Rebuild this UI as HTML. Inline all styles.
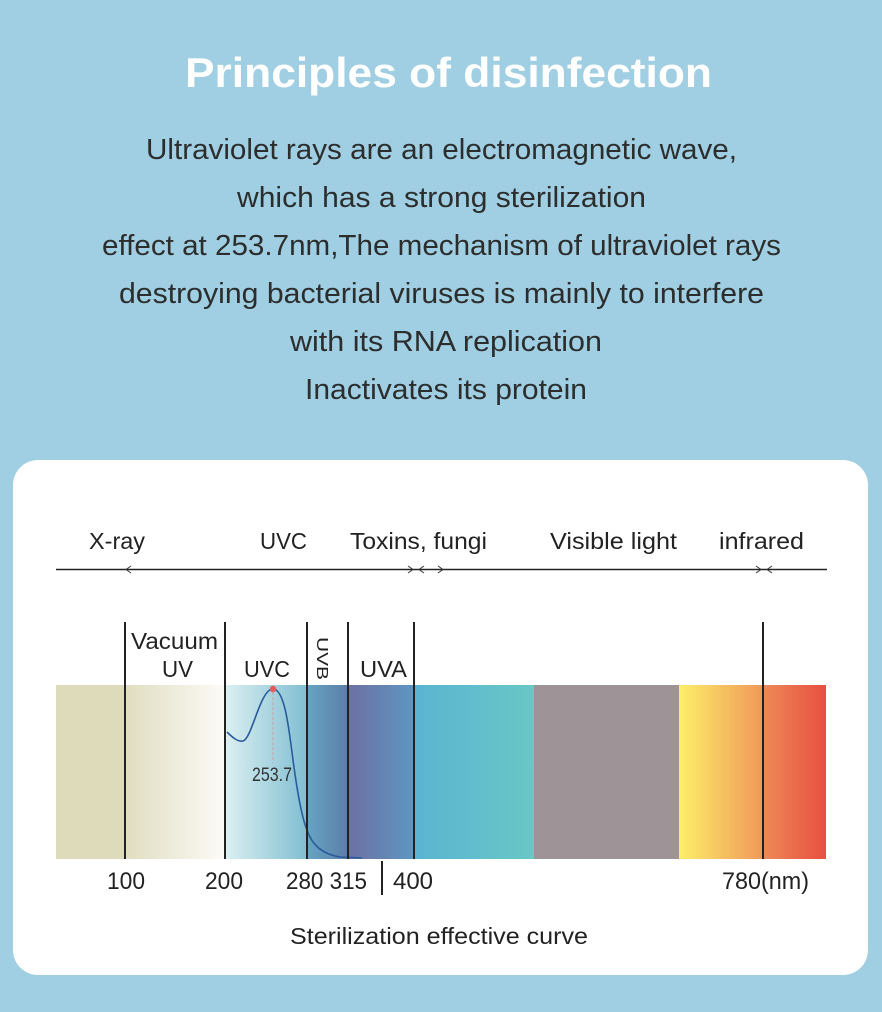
<!DOCTYPE html>
<html>
<head>
<meta charset="utf-8">
<style>
  html,body{margin:0;padding:0;background:#a0cee2;}
  svg{display:block;}
  .t{font-family:"Liberation Sans",sans-serif;}
</style>
</head>
<body>
<svg width="882" height="1012" viewBox="0 0 882 1012" xmlns="http://www.w3.org/2000/svg">
  <defs>
    <linearGradient id="g1" x1="0" x2="1" y1="0" y2="0">
      <stop offset="0" stop-color="#e0ddc0"/>
      <stop offset="1" stop-color="#fcfbf7"/>
    </linearGradient>
    <linearGradient id="g2" x1="0" x2="1" y1="0" y2="0">
      <stop offset="0" stop-color="#dcf0f1"/>
      <stop offset="1" stop-color="#80bed2"/>
    </linearGradient>
    <linearGradient id="g3" x1="0" x2="1" y1="0" y2="0">
      <stop offset="0" stop-color="#66a4c4"/>
      <stop offset="1" stop-color="#5c7ea8"/>
    </linearGradient>
    <linearGradient id="g4" x1="0" x2="1" y1="0" y2="0">
      <stop offset="0" stop-color="#6d70a3"/>
      <stop offset="1" stop-color="#5e96c2"/>
    </linearGradient>
    <linearGradient id="g5" x1="0" x2="1" y1="0" y2="0">
      <stop offset="0" stop-color="#5ab4d3"/>
      <stop offset="1" stop-color="#69c7c5"/>
    </linearGradient>
    <linearGradient id="g6" x1="0" x2="1" y1="0" y2="0">
      <stop offset="0" stop-color="#fcef68"/>
      <stop offset="1" stop-color="#f0985a"/>
    </linearGradient>
    <linearGradient id="g7" x1="0" x2="1" y1="0" y2="0">
      <stop offset="0" stop-color="#ee8a56"/>
      <stop offset="1" stop-color="#e84f42"/>
    </linearGradient>
  </defs>

  <rect x="0" y="0" width="882" height="1012" fill="#a0cee2"/>

  <!-- Title -->
  <text class="t" x="185" y="87" font-size="42" font-weight="bold" fill="#ffffff" textLength="527" lengthAdjust="spacingAndGlyphs">Principles of disinfection</text>

  <!-- Body -->
  <g class="t" font-size="29" fill="#2c2e2e">
    <text x="146" y="159" textLength="591" lengthAdjust="spacingAndGlyphs">Ultraviolet rays are an electromagnetic wave,</text>
    <text x="237" y="207" textLength="409" lengthAdjust="spacingAndGlyphs">which has a strong sterilization</text>
    <text x="102" y="255" textLength="679" lengthAdjust="spacingAndGlyphs">effect at 253.7nm,The mechanism of ultraviolet rays</text>
    <text x="119" y="303" textLength="645" lengthAdjust="spacingAndGlyphs">destroying bacterial viruses is mainly to interfere</text>
    <text x="290" y="351" textLength="312" lengthAdjust="spacingAndGlyphs">with its RNA replication</text>
    <text x="305" y="399" textLength="282" lengthAdjust="spacingAndGlyphs">Inactivates its protein</text>
  </g>

  <!-- Card -->
  <rect x="13" y="460" width="855" height="515" rx="25" ry="25" fill="#ffffff"/>

  <!-- Top labels -->
  <g class="t" font-size="23" fill="#222">
    <text x="89" y="549" textLength="56" lengthAdjust="spacingAndGlyphs">X-ray</text>
    <text x="260" y="549" textLength="47" lengthAdjust="spacingAndGlyphs">UVC</text>
    <text x="350" y="549" textLength="137" lengthAdjust="spacingAndGlyphs">Toxins, fungi</text>
    <text x="550" y="549" textLength="127" lengthAdjust="spacingAndGlyphs">Visible light</text>
    <text x="719" y="549" textLength="85" lengthAdjust="spacingAndGlyphs">infrared</text>
  </g>

  <!-- Arrow line -->
  <line x1="56" y1="569.5" x2="827" y2="569.5" stroke="#222" stroke-width="1.6"/>
  <g fill="none" stroke="#333" stroke-width="1">
    <path d="M131,566 L126,569.5 L131,573"/>
    <path d="M408,566 L413,569.5 L408,573"/>
    <path d="M424,566 L419,569.5 L424,573"/>
    <path d="M438,566 L443,569.5 L438,573"/>
    <path d="M756,566 L761,569.5 L756,573"/>
    <path d="M772,566 L767,569.5 L772,573"/>
  </g>

  <!-- Spectrum bar -->
  <rect x="56" y="685" width="69" height="174" fill="#dddbb9"/>
  <rect x="125" y="685" width="100" height="174" fill="url(#g1)"/>
  <rect x="225" y="685" width="82" height="174" fill="url(#g2)"/>
  <rect x="307" y="685" width="41" height="174" fill="url(#g3)"/>
  <rect x="348" y="685" width="66" height="174" fill="url(#g4)"/>
  <rect x="414" y="685" width="120" height="174" fill="url(#g5)"/>
  <rect x="534" y="685" width="145" height="174" fill="#9e9396"/>
  <rect x="679" y="685" width="84" height="174" fill="url(#g6)"/>
  <rect x="763" y="685" width="63" height="174" fill="url(#g7)"/>

  <!-- Curve -->
  <path d="M227,732 C233,738 238,742 243,741 C252,739 260,689 273,689 C285,689 289,730 293,760 C297,790 302,818 307,830 C312,845 322,854 340,857 L362,858" fill="none" stroke="#2a5a9c" stroke-width="1.6"/>
  <line x1="273" y1="692" x2="273" y2="763" stroke="#c9a0a0" stroke-width="1" stroke-dasharray="3,2"/>
  <circle cx="273" cy="689" r="3.2" fill="#e65a58"/>
  <text class="t" x="252" y="781" font-size="19" fill="#333" textLength="40" lengthAdjust="spacingAndGlyphs">253.7</text>

  <!-- Vertical lines -->
  <g stroke="#222" stroke-width="2">
    <line x1="125" y1="622" x2="125" y2="859"/>
    <line x1="225" y1="622" x2="225" y2="859"/>
    <line x1="307" y1="622" x2="307" y2="859"/>
    <line x1="348" y1="622" x2="348" y2="859"/>
    <line x1="414" y1="622" x2="414" y2="859"/>
    <line x1="763" y1="622" x2="763" y2="859"/>
    <line x1="382" y1="861" x2="382" y2="895"/>
  </g>

  <!-- Band labels -->
  <g class="t" font-size="23" fill="#222">
    <text x="131" y="649" textLength="87" lengthAdjust="spacingAndGlyphs">Vacuum</text>
    <text x="162" y="677" textLength="31" lengthAdjust="spacingAndGlyphs">UV</text>
    <text x="244" y="677" textLength="46" lengthAdjust="spacingAndGlyphs">UVC</text>
    <text x="360" y="677" textLength="47" lengthAdjust="spacingAndGlyphs">UVA</text>
    <text transform="translate(317,637) rotate(90) scale(1,0.68)" x="0" y="0" textLength="43" lengthAdjust="spacingAndGlyphs">UVB</text>
  </g>

  <!-- Bottom labels -->
  <g class="t" font-size="24" fill="#222">
    <text x="107" y="889" textLength="38" lengthAdjust="spacingAndGlyphs">100</text>
    <text x="205" y="889" textLength="38" lengthAdjust="spacingAndGlyphs">200</text>
    <text x="286" y="889" textLength="81" lengthAdjust="spacingAndGlyphs">280 315</text>
    <text x="393" y="889" textLength="40" lengthAdjust="spacingAndGlyphs">400</text>
    <text x="722" y="889" textLength="87" lengthAdjust="spacingAndGlyphs">780(nm)</text>
  </g>
  <text class="t" x="290" y="944" font-size="23" fill="#222" textLength="298" lengthAdjust="spacingAndGlyphs">Sterilization effective curve</text>
</svg>
</body>
</html>
